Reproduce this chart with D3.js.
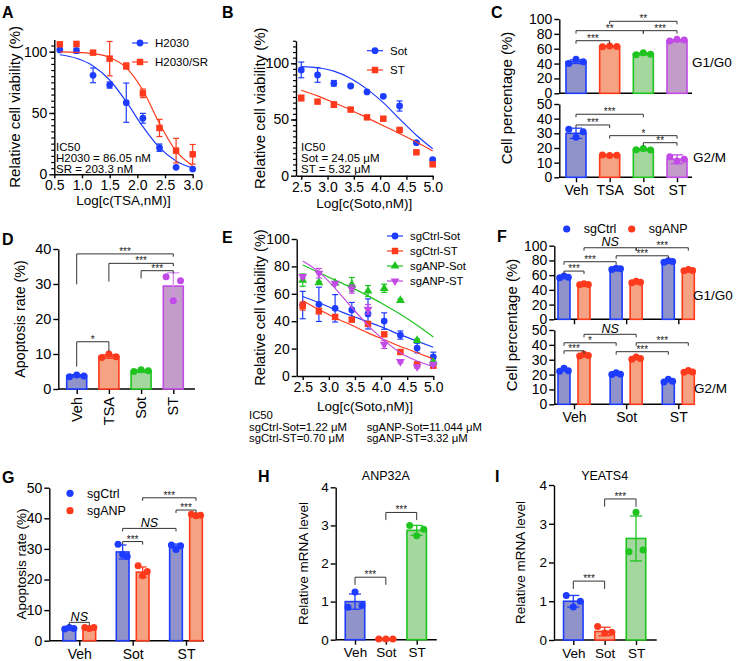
<!DOCTYPE html>
<html>
<head>
<meta charset="utf-8">
<script src="https://cdn.jsdelivr.net/npm/d3@7"></script>
<style>
body { margin: 0; background: #fff; }
</style>
</head>
<body>
<script>
const FONT = 'Arial, "Liberation Sans", Helvetica, sans-serif';

// ---------------- data ----------------
// A: TSA dose response (log nM)
const aDose = [0.6, 0.9, 1.2, 1.5, 1.8, 2.1, 2.4, 2.7, 3.0];
const aH2030 = [101.4, 100.8, 80.7, 72.8, 58.4, 45.7, 21.7, 5.7, 4.3];
const aH2030Err = [0.8, 2, 6, 2.5, 16, 4, 3, 0, 0];
const aH2030Fit = [97.5, 94.6, 88.4, 76.9, 59.2, 38.8, 21.7, 10.8, 5.0];
const aSR = [106, 106.3, 99.2, 94.3, 88.3, 66, 37.8, 19.3, 16.3];
const aSRErr = [0, 0, 0.8, 14, 2.5, 3.5, 7, 10, 8];
const aSRFit = [99.8, 99.5, 98.4, 95.3, 87, 68.5, 41.5, 18.8, 7];

// B: sotorasib dose response
const bDose = [2.5, 2.81, 3.12, 3.44, 3.75, 4.06, 4.37, 4.69, 5.0];
const bSot = [94.1, 89.6, 82.2, 79.8, 74.5, 70.6, 62, 29.4, 14.2];
const bSotErr = [7, 6.5, 2.5, 1, 1, 1, 4.5, 0.8, 0.8];
const bSotFit = [97, 96, 93, 86.5, 77, 65, 50.5, 36, 24];
const bST = [69.1, 65.9, 63.2, 58.8, 51.9, 50.7, 40.7, 20.8, 10.1];
const bSTErr = [2.5, 1, 2.5, 1, 1, 1, 1, 0.8, 0.8];
const bSTFit = [76, 71, 65, 58.5, 51.5, 44.5, 37.5, 30, 22];

// C: cell cycle
const cGroups = ["Veh", "TSA", "Sot", "ST"];
const cG1 = [42.6, 63.2, 53, 70.9];
const cG1Err = [2.5, 0.6, 1.3, 1.2];
const cG1Pts = [[40, 45.7, 42.6], [62.5, 63.5, 63], [52, 54.7, 52.5], [70.4, 72.6, 71.7]];
const cG2 = [30, 15, 18.9, 12.3];
const cG2Err = [3.5, 0.5, 0.7, 3];
const cG2Pts = [[32.7, 27.3, 31.1], [15.2, 14.8, 15.1], [18.8, 19.6, 18.6], [14.1, 11.1, 12.3]];
const cG1Sig = [[0, 1, 70.8, "***"], [0, 2, 84.3, "**"], [2, 3, 84.3, "***"], [1, 3, 96.9, "**"]];
const cG2Sig = [[0, 1, 35.7, "***"], [0, 2, 43, "***"], [1, 3, 28.4, "*"], [2, 3, 23.6, "**"]];

// D: apoptosis
const dMean = [3.8, 9.3, 5.1, 29.4];
const dErr = [0.3, 0.5, 0.3, 3.8];
const dPts = [[3.5, 4.0, 3.7], [9.0, 10.0, 9.2], [5.0, 5.5, 5.2], [32.1, 25.2, 30.9]];
// [from, to, line, left leg end, right leg end, label]
const dSig = [[0, 3, 38.6, 29.9, 37.8, "***"], [1, 3, 35.9, 30.7, 35.1, "***"],
              [2, 3, 33.8, 31.6, 33.0, "***"], [0, 1, 13.5, 6.4, 10.7, "*"]];

// E: sgCtrl / sgANP dose response
const eDose = [2.5, 2.81, 3.12, 3.44, 3.75, 4.06, 4.37, 4.69, 5.0];
const eCtrlSot = [51.8, 52.3, 49.4, 48.2, 45.3, 40.1, 29.9, 20.4, 13.9];
const eCtrlSotErr = [10, 12.5, 10, 5.5, 11, 6, 3, 3.5, 3.5];
const eCtrlSotFit = [58, 53.5, 48.5, 44, 39.5, 35, 30, 25.5, 21];
const eCtrlST = [51.1, 47.4, 43.1, 41.1, 38, 30.4, 17.5, 8.5, 7.5];
const eCtrlSTErr = [3, 2, 1, 1, 1, 1, 1, 1, 1];
const eCtrlSTFit = [55, 48.5, 42.5, 37, 31.5, 26.5, 21.5, 17, 12.5];
const eANPSot = [70, 68.1, 67.9, 66.9, 62, 64, 55.2, 26, 10];
const eANPSotErr = [4.5, 1, 1, 5, 4, 3, 1, 1, 1];
const eANPSotFit = [81, 75.5, 70, 64.5, 58.5, 52, 45, 37, 28.5];
const eANPST = [72.5, 75, 67.6, 63.5, 48.7, 23.1, 10.5, 6.8, 8.5];
const eANPSTErr = [1, 3.5, 1, 3, 3.5, 3, 1, 1, 1];
const eANPSTFit = [84, 76, 64, 50, 37, 26, 17, 11, 7];

// F: cell cycle sgCtrl / sgANP
const fGroups = ["Veh", "Sot", "ST"];
const fSeries = ["sgCtrl", "sgANP"];
const fG1Ctrl = [57.5, 68.5, 78.5];
const fG1ANP = [47.5, 50.5, 66.5];
const fG1CtrlPts = [[56.5, 58.8, 57.2], [67.5, 69.5, 68.6], [77.6, 79.4, 78.5]];
const fG1ANPPts = [[46.8, 48.3, 47.4], [49.6, 51.6, 50.3], [65.8, 67.5, 66.2]];
const fG2Ctrl = [23, 20.5, 15.8];
const fG2ANP = [33, 31, 22];
const fG2CtrlPts = [[22.3, 24.2, 22.5], [20.0, 21.2, 20.3], [15.0, 16.9, 15.5]];
const fG2ANPPts = [[32.5, 33.6, 32.9], [30.4, 31.8, 30.8], [21.5, 22.7, 21.8]];
// [group, series] -> [group, series], line value, label
const fG1Sig = [[[0, 1], [1, 1], 97.2, "NS"], [[1, 1], [2, 1], 97.2, "***"], [[1, 0], [2, 0], 86.3, "***"],
                [[0, 0], [1, 0], 78.2, "***"], [[0, 0], [0, 1], 65.5, "***"]];
const fG2Sig = [[[0, 1], [1, 1], 47.1, "NS"], [[0, 0], [1, 0], 41.4, "*"], [[1, 1], [2, 1], 41.4, "***"],
                [[0, 0], [0, 1], 36, "***"], [[1, 0], [2, 0], 35.4, "***"]];

// G: apoptosis sgCtrl / sgANP
const gCtrl = [4.0, 29, 30.8];
const gANP = [4.2, 22.4, 41.0];
const gCtrlErr = [0.3, 2.3, 0.8];
const gANPErr = [0.2, 1.7, 0.3];
const gCtrlPts = [[3.8, 4.3, 4.0], [31.5, 28.2, 27.5], [31.3, 29.8, 31.0]];
const gANPPts = [[4.3, 4.0, 4.3], [24.5, 21.2, 22.6], [41.3, 40.8, 41.0]];
const gSig = [[[0, 0], [0, 1], 6.0, "NS"], [[1, 0], [1, 1], 32.4, "***"], [[1, 0], [2, 0], 36.7, "NS"],
              [[2, 0], [2, 1], 42.7, "***"], [[1, 1], [2, 1], 46.7, "***"]];

// H, I: qPCR
const qGroups = ["Veh", "Sot", "ST"];
const hMean = [1.0, 0.02, 2.87];
const hErr = [0.2, 0.01, 0.13];
const hPts = [[0.85, 1.25, 0.9], [0.02, 0.02, 0.02], [3.0, 2.73, 2.9]];
const hSig = [[0, 1, 1.64, 1.44, "***"], [1, 2, 3.34, 3.14, "***"]];
const iMean = [1.0, 0.22, 2.62];
const iErr = [0.15, 0.11, 0.58];
const iPts = [[1.15, 0.85, 1.0], [0.35, 0.18, 0.2], [2.28, 3.3, 2.32]];
const iSig = [[0, 1, 1.52, 1.32, "***"], [1, 2, 3.64, 3.44, "***"]];

// ---------------- styles ----------------
const blue = "#1e3cff", red = "#ff3a1c", green = "#1fc41f", purple = "#c24ae6";
const blueFill = "#8f93c9", redFill = "#f5a283", greenFill = "#a4d79e", purpleFill = "#c49cca";
const c4Stroke = [blue, red, green, purple];
const c4Fill = [blueFill, redFill, greenFill, purpleFill];

const svg = d3.select("body").append("svg")
  .attr("width", 742).attr("height", 661)
  .style("font-family", FONT);

function styleAxis(g, fs) {
  g.attr("font-family", null).attr("font-size", null);
  g.select(".domain").attr("stroke", "#000").attr("stroke-width", 1.4);
  g.selectAll(".tick line").attr("stroke", "#000").attr("stroke-width", 1.4);
  g.selectAll(".tick text").attr("fill", "#000").style("font-size", fs + "px").style("font-family", FONT);
}

function leftAxis(y, x0, values, fs, fmt, minor) {
  const g = svg.append("g").attr("transform", "translate(" + x0 + ",0)")
    .call(d3.axisLeft(y).tickValues(values).tickSize(5).tickSizeOuter(0).tickPadding(2)
      .tickFormat(fmt || d3.format("d")));
  styleAxis(g, fs);
  if (minor) {
    const m = svg.append("g").attr("transform", "translate(" + x0 + ",0)")
      .call(d3.axisLeft(y).tickValues(minor).tickSize(3).tickFormat(""));
    m.select(".domain").remove();
    m.selectAll("line").attr("stroke", "#000").attr("stroke-width", 1.2);
  }
  return g;
}

// category axis: baseline drawn from x0 to x1, ticks at category centres
function catAxis(x, y0, x0, x1, fs, tickLen, showLabels) {
  svg.append("line").attr("x1", x0).attr("x2", x1).attr("y1", y0).attr("y2", y0)
    .attr("stroke", "#000").attr("stroke-width", 1.4);
  if (tickLen === 0 && !showLabels) return;
  const g = svg.append("g").attr("transform", "translate(0," + y0 + ")")
    .call(d3.axisBottom(x).tickSize(tickLen).tickPadding(3));
  g.select(".domain").remove();
  styleAxis(g, fs);
  if (!showLabels) g.selectAll(".tick text").remove();
  return g;
}

function rotLabel(text, x, y, fs) {
  svg.append("text").attr("transform", "translate(" + x + "," + y + ") rotate(-90)")
    .attr("text-anchor", "middle").attr("dy", "0.35em")
    .style("font-size", fs + "px").text(text);
}

function label(text, x, y, fs, anchor, extra) {
  const t = svg.append("text").attr("x", x).attr("y", y)
    .attr("text-anchor", anchor || "start")
    .style("font-size", fs + "px").text(text);
  if (extra) extra(t);
  return t;
}

function bracket(x1, x2, yLine, yL, yR, text) {
  svg.append("path")
    .attr("d", "M" + x1 + "," + yL + "V" + yLine + "H" + x2 + "V" + yR)
    .attr("fill", "none").attr("stroke", "#333").attr("stroke-width", 1);
  if (text === "NS") {
    svg.append("text").attr("x", (x1 + x2) / 2).attr("y", yLine - 1.5)
      .attr("text-anchor", "middle").style("font-size", "12.5px").style("font-style", "italic").text(text);
  } else {
    svg.append("text").attr("x", (x1 + x2) / 2).attr("y", yLine + 1)
      .attr("text-anchor", "middle").style("font-size", "10px").attr("fill", "#222").text(text);
  }
}

function errBar(x, y, mean, err, cap, color, width) {
  if (!err) return;
  const g = svg.append("g").attr("stroke", color).attr("stroke-width", width || 1.2);
  g.append("line").attr("x1", x).attr("x2", x).attr("y1", y(mean - err)).attr("y2", y(mean + err));
  [mean - err, mean + err].forEach(v => {
    g.append("line").attr("x1", x - cap / 2).attr("x2", x + cap / 2).attr("y1", y(v)).attr("y2", y(v));
  });
}

// bars with dots; cx = centre, bw = width
function barWithDots(cx, bw, y, mean, err, pts, stroke, fill, errColor) {
  svg.append("rect").attr("x", cx - bw / 2).attr("width", bw)
    .attr("y", y(mean)).attr("height", y(0) - y(mean))
    .attr("fill", fill).attr("stroke", stroke).attr("stroke-width", 1.6);
  errBar(cx, y, mean, err, bw * 0.62, errColor || stroke, 1.3);
  const off = [-0.36, 0, 0.36];
  svg.append("g").selectAll("circle").data(pts).join("circle")
    .attr("cx", (d, i) => cx + off[i] * bw).attr("cy", d => y(d)).attr("r", 3.5)
    .attr("fill", stroke);
}

const symbols = {
  circle: d3.symbol().type(d3.symbolCircle).size(36),
  square: d3.symbol().type(d3.symbolSquare).size(42),
  triangle: d3.symbol().type(d3.symbolTriangle).size(34),
  down: d3.symbol().type(d3.symbolTriangle).size(34)
};
function marker(x, y, shape, color) {
  svg.append("path").attr("d", symbols[shape]())
    .attr("transform", "translate(" + x + "," + y + ")" + (shape === "down" ? " rotate(180)" : ""))
    .attr("fill", color);
}

function dosePanel(p) {
  const x = d3.scaleLinear().domain(p.xDomain).range(p.xRange);
  const y = d3.scaleLinear().domain(p.yDomain).range(p.yRange);
  leftAxis(y, p.xRange[0], p.yTicks, p.fs, null, p.yMinor);
  const xa = svg.append("g").attr("transform", "translate(0," + p.yRange[0] + ")")
    .call(d3.axisBottom(x).tickValues(p.xTicks).tickSize(4).tickSizeOuter(0).tickPadding(2)
      .tickFormat(d3.format(".1f")));
  styleAxis(xa, p.fs);
  p.series.forEach(s => {
    const pts = p.dose.map((d, i) => ({ d: d, v: s.vals[i], e: s.err[i], f: s.fit[i] }));
    svg.append("path").datum(pts)
      .attr("d", d3.line().x(d => x(d.d)).y(d => y(d.f)).curve(d3.curveMonotoneX))
      .attr("fill", "none").attr("stroke", s.color).attr("stroke-width", 1.2);
    pts.forEach(d => errBar(x(d.d), y, d.v, d.e, 6, s.color, 1.2));
    pts.forEach(d => marker(x(d.d), y(d.v), s.shape, s.color));
  });
  // legend
  p.series.forEach((s, i) => {
    const ly = p.legend.y + i * p.legend.dy;
    svg.append("line").attr("x1", p.legend.x - 8).attr("x2", p.legend.x + 8)
      .attr("y1", ly).attr("y2", ly).attr("stroke", s.color).attr("stroke-width", 1.2);
    marker(p.legend.x, ly, s.shape, s.color);
    label(s.name, p.legend.x + 15, ly, p.legend.fs, "start", t => t.attr("dy", "0.35em"));
  });
  rotLabel("Relative cell viability (%)", p.yTitleX, (p.yRange[0] + p.yRange[1]) / 2, p.titleFs);
  label(p.xTitle, (p.xRange[0] + p.xRange[1]) / 2, p.xTitleY, p.xTitleFs, "middle");
}

// ---------------- panel letters ----------------
[["A", 2, 18], ["B", 222, 18], ["C", 491, 17.5], ["D", 2, 245], ["E", 222, 243],
 ["F", 497, 242], ["G", 2, 483], ["H", 258, 482], ["I", 495, 482]].forEach(d => {
  svg.append("text").attr("x", d[1]).attr("y", d[2]).style("font-size", "16px")
    .style("font-weight", "bold").text(d[0]);
});

// ---------------- A ----------------
dosePanel({
  dose: aDose, xDomain: [0.5, 3.0], xRange: [54.3, 192.7], yDomain: [0, 110], yRange: [174.3, 39.4],
  xTicks: [0.5, 1.0, 1.5, 2.0, 2.5, 3.0], yTicks: [0, 50, 100], yMinor: d3.range(5, 110, 5),
  fs: 14, titleFs: 15, xTitleFs: 13.5, xTitle: "Log[c(TSA,nM)]", xTitleY: 205, yTitleX: 15,
  legend: { x: 140, y: 43, dy: 19, fs: 11.5 },
  series: [
    { name: "H2030", vals: aH2030, err: aH2030Err, fit: aH2030Fit, color: blue, shape: "circle" },
    { name: "H2030/SR", vals: aSR, err: aSRErr, fit: aSRFit, color: red, shape: "square" }
  ]
});
["IC50", "H2030 = 86.05 nM", "SR = 203.3 nM"].forEach((t, i) => label(t, 56, 151 + i * 10.8, 11.5));

// ---------------- B ----------------
dosePanel({
  dose: bDose, xDomain: [2.4, 5.0], xRange: [296, 432.7], yDomain: [0, 120], yRange: [175.7, 40.8],
  xTicks: [2.5, 3.0, 3.5, 4.0, 4.5, 5.0], yTicks: [0, 50, 100], yMinor: d3.range(5, 125, 5),
  fs: 14, titleFs: 15, xTitleFs: 13.5, xTitle: "Log[c(Soto,nM)]", xTitleY: 208, yTitleX: 260,
  legend: { x: 375, y: 50.7, dy: 19.3, fs: 11.5 },
  series: [
    { name: "Sot", vals: bSot, err: bSotErr, fit: bSotFit, color: blue, shape: "circle" },
    { name: "ST", vals: bST, err: bSTErr, fit: bSTFit, color: red, shape: "square" }
  ]
});
["IC50", "Sot = 24.05 \u03bcM", "ST = 5.32 \u03bcM"].forEach((t, i) => label(t, 301, 151 + i * 10.8, 11.5));

// ---------------- C ----------------
(function () {
  const x = d3.scalePoint().domain(cGroups).range([576, 677]);
  const yTop = d3.scaleLinear().domain([0, 100]).range([93.3, 19]);
  const yBot = d3.scaleLinear().domain([0, 50]).range([177.3, 104]);
  leftAxis(yTop, 559.3, [0, 20, 40, 60, 80, 100], 14);
  leftAxis(yBot, 559.3, [0, 10, 20, 30, 40, 50], 14);
  catAxis(x, 93.3, 559.3, 692, 14, 0, false);
  catAxis(x, 177.3, 559.3, 692, 14, 5, true);
  cGroups.forEach((gname, i) => {
    barWithDots(x(gname), 20, yTop, cG1[i], cG1Err[i], cG1Pts[i], c4Stroke[i], c4Fill[i]);
    barWithDots(x(gname), 20, yBot, cG2[i], cG2Err[i], cG2Pts[i], c4Stroke[i], c4Fill[i]);
  });
  cG1Sig.forEach(s => bracket(x(cGroups[s[0]]), x(cGroups[s[1]]), yTop(s[2]), yTop(s[2]) + 3, yTop(s[2]) + 3, s[3]));
  cG2Sig.forEach(s => bracket(x(cGroups[s[0]]), x(cGroups[s[1]]), yBot(s[2]), yBot(s[2]) + 3, yBot(s[2]) + 3, s[3]));
  label("G1/G0", 692, 67, 13.5);
  label("G2/M", 693, 162, 13.5);
  rotLabel("Cell percentage (%)", 507, 98, 15);
})();

// ---------------- D ----------------
(function () {
  const x = d3.scalePoint().domain(cGroups).range([76.7, 173.3]);
  const y = d3.scaleLinear().domain([0, 40]).range([389, 249]);
  leftAxis(y, 58.3, [0, 10, 20, 30, 40], 14.5);
  catAxis(x, 389, 58.3, 195, 14.5, 5, false);
  cGroups.forEach((gname, i) => {
    barWithDots(x(gname), 20, y, dMean[i], dErr[i], dPts[i], c4Stroke[i], c4Fill[i], i === 3 ? "#d98cf2" : null);
    svg.append("text").attr("transform", "translate(" + x(gname) + ",397) rotate(-90)")
      .attr("text-anchor", "end").attr("dy", "0.35em").style("font-size", "14.5px").text(gname);
  });
  dSig.forEach(s => bracket(x(cGroups[s[0]]), x(cGroups[s[1]]), y(s[2]), y(s[3]), y(s[4]), s[5]));
  rotLabel("Apoptosis rate (%)", 20, 319, 14.3);
})();

// ---------------- E ----------------
dosePanel({
  dose: eDose, xDomain: [2.385, 5.0], xRange: [296.7, 433.3], yDomain: [0, 100], yRange: [376, 239],
  xTicks: [2.5, 3.0, 3.5, 4.0, 4.5, 5.0], yTicks: [0, 20, 40, 60, 80, 100], yMinor: null,
  fs: 14, titleFs: 14.5, xTitleFs: 13.5, xTitle: "Log[c(Soto,nM)]", xTitleY: 411, yTitleX: 260,
  legend: { x: 395, y: 236, dy: 15, fs: 11.3 },
  series: [
    { name: "sgCtrl-Sot", vals: eCtrlSot, err: eCtrlSotErr, fit: eCtrlSotFit, color: blue, shape: "circle" },
    { name: "sgCtrl-ST", vals: eCtrlST, err: eCtrlSTErr, fit: eCtrlSTFit, color: red, shape: "square" },
    { name: "sgANP-Sot", vals: eANPSot, err: eANPSotErr, fit: eANPSotFit, color: green, shape: "triangle" },
    { name: "sgANP-ST", vals: eANPST, err: eANPSTErr, fit: eANPSTFit, color: purple, shape: "down" }
  ]
});
label("IC50", 249, 419, 11.3);
label("sgCtrl-Sot=1.22 \u03bcM", 249, 430.5, 11.3);
label("sgCtrl-ST=0.70 \u03bcM", 249, 441.5, 11.3);
label("sgANP-Sot=11.044 \u03bcM", 366.7, 430.5, 11.3);
label("sgANP-ST=3.32 \u03bcM", 366.7, 441.5, 11.3);

// ---------------- grouped bar helper (F, G) ----------------
function groupedBars(x, xs, y, ctrl, anp, ctrlErr, anpErr, ctrlPts, anpPts, bw) {
  fGroups.forEach((gname, i) => {
    barWithDots(x(gname) + xs("sgCtrl"), bw, y, ctrl[i], ctrlErr ? ctrlErr[i] : 0, ctrlPts[i], blue, blueFill);
    barWithDots(x(gname) + xs("sgANP"), bw, y, anp[i], anpErr ? anpErr[i] : 0, anpPts[i], red, redFill);
  });
}
function groupedSig(x, xs, y, sig, leg) {
  sig.forEach(s => {
    const x1 = x(fGroups[s[0][0]]) + xs(fSeries[s[0][1]]);
    const x2 = x(fGroups[s[1][0]]) + xs(fSeries[s[1][1]]);
    bracket(x1, x2, y(s[2]), y(s[2]) + leg, y(s[2]) + leg, s[3]);
  });
}
// legend entries placed at (x, y) pairs
function dotLegend(pos, fs) {
  [[blue, "sgCtrl"], [red, "sgANP"]].forEach((d, i) => {
    svg.append("circle").attr("cx", pos[i][0]).attr("cy", pos[i][1]).attr("r", 3.6).attr("fill", d[0]);
    label(d[1], pos[i][0] + 17, pos[i][1], fs, "start", t => t.attr("dy", "0.35em"));
  });
}

// ---------------- F ----------------
(function () {
  const x = d3.scalePoint().domain(fGroups).range([574, 678.3]);
  const xs = d3.scaleBand().domain(fSeries).range([-20, 20]).paddingInner(0.4).paddingOuter(0.2);
  const off = s => xs(s) + xs.bandwidth() / 2;
  const yTop = d3.scaleLinear().domain([0, 100]).range([319.3, 245.7]);
  const yBot = d3.scaleLinear().domain([0, 50]).range([404.3, 330]);
  leftAxis(yTop, 554.3, [0, 20, 40, 60, 80, 100], 14);
  leftAxis(yBot, 554.3, [0, 10, 20, 30, 40, 50], 14);
  catAxis(x, 319.3, 554.3, 690, 14, 5, false);
  catAxis(x, 404.3, 554.3, 690, 14, 5, true);
  groupedBars(x, off, yTop, fG1Ctrl, fG1ANP, null, null, fG1CtrlPts, fG1ANPPts, 12);
  groupedBars(x, off, yBot, fG2Ctrl, fG2ANP, null, null, fG2CtrlPts, fG2ANPPts, 12);
  groupedSig(x, off, yTop, fG1Sig, 3);
  groupedSig(x, off, yBot, fG2Sig, 3);
  dotLegend([[566.7, 229], [631.7, 229]], 12.5);
  label("G1/G0", 693, 300, 13.5);
  label("G2/M", 694, 393, 13.5);
  rotLabel("Cell percentage (%)", 512, 325, 15);
})();

// ---------------- G ----------------
(function () {
  const x = d3.scalePoint().domain(fGroups).range([79.3, 186]);
  const xs = d3.scaleBand().domain(fSeries).range([-20, 20]).paddingInner(0.36).paddingOuter(0.18);
  const off = s => xs(s) + xs.bandwidth() / 2;
  const y = d3.scaleLinear().domain([0, 50]).range([640.7, 487.7]);
  leftAxis(y, 49.3, [0, 10, 20, 30, 40, 50], 14);
  catAxis(x, 640.7, 49.3, 204, 14, 5, true);
  groupedBars(x, off, y, gCtrl, gANP, gCtrlErr, gANPErr, gCtrlPts, gANPPts, 12.7);
  groupedSig(x, off, y, gSig, 3);
  dotLegend([[70, 493.3], [70, 510.7]], 12.5);
  rotLabel("Apoptosis rate (%)", 21.7, 564, 13.5);
})();

// ---------------- H, I ----------------
function qPanel(p) {
  const x = d3.scalePoint().domain(qGroups).range(p.xr);
  const y = d3.scaleLinear().domain([0, 4]).range(p.yr);
  leftAxis(y, p.ax, [0, 1, 2, 3, 4], 13.5);
  catAxis(x, p.yr[0], p.ax, p.axEnd, 13.5, 5, true);
  qGroups.forEach((gname, i) => {
    barWithDots(x(gname), 19.5, y, p.mean[i], p.err[i], p.pts[i], [blue, red, green][i], [blueFill, redFill, greenFill][i]);
  });
  p.sig.forEach(s => bracket(x(qGroups[s[0]]), x(qGroups[s[1]]), y(s[2]), y(s[3]), y(s[3]), s[4]));
  label(p.title, (p.xr[0] + p.xr[1]) / 2, 480, 12.5, "middle");
  rotLabel("Relative mRNA level", p.ytx, (p.yr[0] + p.yr[1]) / 2, 13.5);
}
qPanel({ xr: [355, 416.7], yr: [639.7, 487.3], ax: 335.7, axEnd: 436.7, mean: hMean, err: hErr, pts: hPts,
         sig: hSig, title: "ANP32A", ytx: 303.3 });
qPanel({ xr: [573.3, 636], yr: [640, 485], ax: 554, axEnd: 656.7, mean: iMean, err: iErr, pts: iPts,
         sig: iSig, title: "YEATS4", ytx: 520.7 });
</script>
</body>
</html>
